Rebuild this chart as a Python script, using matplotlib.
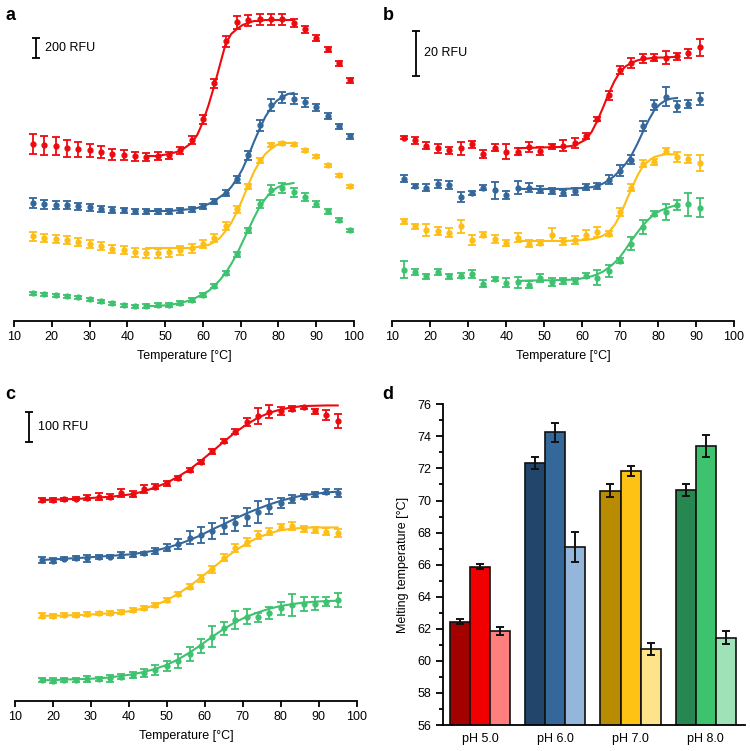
import matplotlib

matplotlib.use("Agg")

import matplotlib.pyplot as plt
import numpy as np

plt.rcParams['font.family'] = ['Liberation Sans', 'DejaVu Sans']
plt.rcParams['font.size'] = 9

# ---- panel a: 200 RFU scale ----
temps_a = [15, 18, 21, 24, 27, 30, 33, 36, 39, 42, 45, 48, 51, 54, 57, 60, 63, 66,
           69, 72, 75, 78, 81, 84, 87, 90, 93, 96, 99]
red_a = [1770, 1760, 1750, 1730, 1720, 1710, 1690, 1670, 1660, 1650, 1640, 1650, 1660, 1710,
         1810, 2020, 2380, 2800, 2990, 3010, 3020, 3020, 3020, 2980, 2920, 2830, 2720, 2580, 2410]
red_a_err = [100, 95, 90, 85, 75, 65, 60, 55, 50, 45, 40, 40, 35, 35, 40, 45, 45, 55, 65,
             55, 55, 55, 55, 40, 35, 30, 25, 25, 25]
blue_a = [1180, 1170, 1160, 1160, 1150, 1140, 1120, 1110, 1110, 1100, 1100, 1100, 1100, 1110,
          1120, 1150, 1200, 1280, 1420, 1660, 1960, 2160, 2240, 2220, 2190, 2140, 2050, 1950, 1850]
blue_a_err = [50, 45, 40, 40, 35, 35, 30, 30, 25, 25, 25, 25, 25, 25, 25, 25, 25, 30, 35,
              45, 55, 60, 55, 50, 45, 35, 30, 25, 25]
yellow_a = [850, 830, 820, 810, 790, 770, 750, 720, 710, 690, 680, 680, 690, 710, 730, 770,
            830, 950, 1120, 1350, 1610, 1760, 1780, 1770, 1710, 1650, 1560, 1460, 1350]
yellow_a_err = [45, 40, 40, 40, 40, 40, 40, 40, 40, 45, 45, 45, 45, 45, 45, 40, 40, 40, 35,
                25, 25, 20, 15, 15, 15, 15, 15, 15, 15]
green_a = [280, 270, 260, 250, 240, 220, 200, 180, 160, 150, 150, 160, 160, 180, 210, 260,
           350, 480, 670, 910, 1170, 1310, 1330, 1290, 1240, 1170, 1100, 1010, 910]
green_a_err = [15, 15, 15, 15, 15, 15, 15, 15, 15, 15, 20, 20, 20, 20, 20, 20, 20, 20, 25,
               25, 40, 50, 50, 45, 40, 30, 25, 20, 15]

fit_t_a = [45, 48, 51, 54, 57, 58.5, 60, 61.5, 63, 64.5, 66, 67.5, 69, 70.5, 72, 73.5, 75,
           76.5, 78, 79.5, 81, 82.5, 84]
red_a_fit = [1650, 1650, 1670, 1700, 1780, 1860, 1990, 2160, 2350, 2560, 2770, 2870, 2920,
             2960, 2980, 3000, 3000, 3010, 3010, 3010, 3010, 3010, 3010]
blue_a_fit = [1100, 1100, 1100, 1110, 1120, 1130, 1150, 1170, 1200, 1240, 1280, 1340, 1420,
              1520, 1650, 1790, 1920, 2040, 2130, 2200, 2240, 2270, 2280]
yellow_a_fit = [730, 730, 730, 730, 730, 740, 750, 760, 790, 830, 900, 980, 1090, 1220, 1360,
                1490, 1590, 1670, 1720, 1760, 1780, 1780, 1780]
green_a_fit = [150, 150, 160, 180, 210, 240, 270, 300, 350, 410, 480, 570, 670, 790, 910, 1030,
               1140, 1220, 1290, 1330, 1360, 1370, 1380]

# ---- panel b: 20 RFU scale ----
temps_b = [13, 16, 19, 22, 25, 28, 31, 34, 37, 40, 43, 46, 49, 52, 55, 58, 61, 64, 67, 70,
           73, 76, 79, 82, 85, 88, 91]
red_b = [82.1, 80.9, 78.5, 77.2, 76.4, 77.2, 79.0, 74.6, 77.6, 75.7, 75.7, 77.9, 76.1, 78.2,
         78.5, 79.7, 82.8, 90.6, 101.0, 112.2, 115.5, 117.5, 117.8, 117.9, 118.5, 119.7, 122.4]
red_b_err = [0.6, 1.5, 1.5, 1.9, 1.5, 3.0, 1.5, 1.8, 1.5, 3.3, 1.5, 2.2, 1.9, 1.2, 2.5, 2.2,
             1.5, 0.9, 2.1, 1.8, 2.1, 1.9, 1.5, 2.7, 1.5, 2.2, 3.7]
blue_b = [63.7, 60.3, 59.6, 61.2, 60.7, 55.5, 57.3, 59.7, 58.5, 56.3, 59.7, 59.6, 58.8, 58.2,
          57.3, 58.1, 60.0, 60.3, 63.3, 67.2, 72.2, 87.2, 96.6, 100.3, 96.1, 96.9, 99.3]
blue_b_err = [1.5, 0.9, 1.5, 1.8, 1.8, 2.2, 0.9, 1.0, 3.7, 1.9, 3.0, 2.1, 1.5, 1.5, 1.5, 1.5,
              1.2, 1.3, 2.1, 2.5, 2.1, 2.1, 2.2, 4.2, 2.5, 1.8, 2.5]
yellow_b = [44.6, 42.4, 40.6, 40.3, 39.6, 42.4, 36.4, 38.7, 36.9, 34.9, 37.3, 34.6, 35.1, 38.7,
            35.7, 36.1, 38.7, 39.8, 39.1, 48.8, 59.7, 70.4, 71.2, 76.1, 73.4, 72.7, 70.7]
yellow_b_err = [1.2, 1.2, 2.7, 1.8, 1.9, 3.0, 2.2, 1.2, 1.8, 1.5, 1.9, 1.5, 1.0, 3.0, 1.5, 1.8,
                1.8, 2.2, 1.2, 1.8, 1.5, 1.5, 1.5, 1.5, 2.2, 1.8, 3.7]
green_b = [23.0, 21.9, 20.0, 21.9, 20.0, 20.3, 20.9, 16.7, 18.8, 17.2, 17.3, 16.3, 19.3, 17.5,
           17.9, 17.9, 20.3, 19.4, 22.4, 27.0, 34.6, 42.1, 48.1, 48.8, 51.8, 52.2, 50.7]
green_b_err = [3.7, 1.2, 1.0, 1.5, 1.2, 1.2, 1.8, 1.5, 0.7, 2.2, 2.5, 1.5, 1.8, 1.8, 1.2, 1.5,
               1.2, 3.3, 2.7, 1.2, 3.0, 3.0, 1.2, 3.7, 2.2, 5.2, 4.2]

fit_t_b = [43, 46, 49, 52, 55, 58, 61, 62.5, 64, 65.5, 67, 68.5, 70, 71.5, 73, 74.5, 76, 77.5,
           79, 80.5, 82, 83.5, 85]
red_b_fit = [77.3, 77.5, 77.6, 77.8, 77.9, 78.5, 81.2, 84.6, 89.6, 95.5, 101.8, 107.3, 111.5,
             114.0, 115.5, 116.6, 117.2, 117.5, 117.8, 117.9, 117.9, 118.1, 118.1]
blue_b_fit = [59.1, 59.1, 59.1, 59.1, 59.1, 59.3, 59.6, 59.9, 60.4, 61.5, 63.0, 64.9, 67.5, 70.4,
              74.2, 79.1, 84.6, 89.8, 94.3, 97.0, 98.8, 99.5, 99.8]
yellow_b_fit = [35.8, 35.8, 35.8, 35.8, 35.8, 36.0, 36.3, 36.6, 37.2, 38.2, 39.8, 42.8, 47.3,
                53.3, 59.3, 64.8, 69.3, 71.6, 73.4, 74.1, 74.6, 74.6, 74.6]
green_b_fit = [17.9, 18.1, 18.2, 18.2, 18.4, 18.5, 19.4, 20.0, 20.9, 22.1, 23.9, 26.0, 28.7,
               32.2, 36.1, 39.5, 42.8, 45.5, 47.8, 49.3, 50.3, 51.2, 51.8]

# ---- panel c: 100 RFU scale ----
temps_c = [17, 20, 23, 26, 29, 32, 35, 38, 41, 44, 47, 50, 53, 56, 59, 62, 65, 68, 71, 74,
           77, 80, 83, 86, 89, 92, 95]
red_c = [655, 655, 658, 660, 663, 666, 666, 679, 675, 693, 699, 710, 727, 753, 780, 814, 848,
         878, 909, 930, 944, 947, 954, 958, 945, 933, 914]
red_c_err = [6.5, 6.5, 5.4, 4.3, 7.6, 10.9, 7.6, 13, 10.9, 13, 8.7, 7.6, 6.5, 6.5, 6.5, 7.6,
             7.6, 8.7, 13, 27, 22, 13, 7.6, 4.3, 8.7, 16, 22]
red_c_fit = [655, 657, 658, 659, 661, 664, 666, 670, 675, 684, 697, 712, 732, 755, 784, 814,
             846, 876, 902, 924, 940, 951, 958, 962, 963, 964, 964]
blue_c = [460, 458, 464, 468, 465, 471, 471, 476, 478, 482, 489, 500, 512, 533, 541, 554, 571,
          579, 601, 617, 634, 645, 659, 666, 674, 683, 679]
blue_c_err = [8.7, 8.7, 4.3, 6.5, 10.9, 6.5, 5.4, 8.7, 8.7, 5.4, 8.7, 10.9, 15, 22, 27, 27, 27,
              24, 30, 35, 24, 16, 13, 8.7, 8.7, 8.7, 13]
blue_c_fit = [460, 462, 464, 466, 468, 471, 473, 476, 479, 485, 491, 500, 511, 525, 541, 560,
              577, 595, 612, 627, 641, 653, 663, 671, 676, 680, 683]
yellow_c = [278, 277, 279, 280, 284, 286, 287, 290, 297, 303, 312, 329, 349, 373, 400, 430,
            467, 498, 520, 541, 552, 568, 572, 561, 558, 552, 547]
yellow_c_err = [7.6, 5.4, 6.5, 6.5, 6.5, 5.4, 5.4, 6.5, 6.5, 5.4, 6.5, 6.5, 6.5, 7.6, 10.9,
                10.9, 10.9, 13, 13, 13, 10.9, 10.9, 13, 8.7, 8.7, 10.9, 13]
yellow_c_fit = [278, 278, 279, 280, 281, 284, 286, 289, 295, 302, 313, 329, 350, 375, 403, 433,
                463, 490, 514, 533, 547, 557, 562, 565, 566, 566, 566]
green_c = [68, 66, 68, 68, 72, 72, 74, 79, 85, 90, 101, 114, 130, 153, 179, 210, 237, 264, 275,
           273, 288, 302, 313, 316, 318, 324, 329]
green_c_err = [6.5, 8.7, 6.5, 6.5, 8.7, 6.5, 10.9, 8.7, 10.9, 13, 15, 16, 22, 22, 24, 33, 22,
               30, 24, 15, 20, 22, 35, 24, 22, 15, 22]
green_c_fit = [68, 68, 70, 71, 72, 74, 77, 82, 87, 95, 105, 118, 136, 158, 183, 210, 235, 257,
               275, 289, 301, 310, 316, 321, 324, 326, 327]

# ---- panel d: melting temperatures ----
groups = ['pH 5.0', 'pH 6.0', 'pH 7.0', 'pH 8.0']
tm_dark = [62.44, 72.34, 70.62, 70.66]
tm_dark_err = [0.17, 0.37, 0.42, 0.38]
tm_mid = [65.88, 74.25, 71.84, 73.40]
tm_mid_err = [0.15, 0.58, 0.30, 0.69]
tm_light = [61.86, 67.10, 60.74, 61.45]
tm_light_err = [0.27, 0.94, 0.40, 0.39]

RED, BLUE, YELLOW, GREEN = '#EC0A0F', '#34679A', '#FDBE17', '#3EC26F'
dark_cols = ['#A30000', '#22466B', '#B98B00', '#268750']
mid_cols = ['#F00000', '#34679A', '#FEC214', '#3DC36E']
light_cols = ['#FF7F7F', '#94B6DA', '#FFE38A', '#A0E2B8']

W, H = 750, 751
fig = plt.figure(figsize=(7.5, 7.51), dpi=100)


def px_axes(x0, y0, x1, y1):
    return fig.add_axes([x0 / W, 1 - y1 / H, (x1 - x0) / W, (y1 - y0) / H])


def melt_panel(ax, temps, series, fits, fit_t, ytop, bar_x, bar_y, bar_len, bar_label, text_x):
    for (vals, errs, col), fvals in zip(series, fits):
        ax.errorbar(temps, vals, yerr=errs, fmt='o', color=col, markersize=3.5,
                    elinewidth=1.3, capsize=2.6, capthick=1.3, zorder=2)
        ax.plot(fit_t[:len(fvals)], fvals, color=col, lw=1.5, zorder=3)
    ax.errorbar([bar_x], [bar_y], yerr=[bar_len / 2], color='black', elinewidth=1.3,
                capsize=2.6, capthick=1.3)
    ax.text(text_x, bar_y, bar_label, va='center', ha='left', fontsize=9)
    ax.set_xlim(10, 100)
    ax.set_ylim(0, ytop)
    for s in ['left', 'right', 'top']:
        ax.spines[s].set_visible(False)
    ax.spines['bottom'].set_linewidth(1.3)
    ax.set_yticks([])
    ax.set_xticks(range(10, 101, 10))
    ax.tick_params(axis='x', direction='out', length=4, width=1.3, pad=3, labelsize=9)
    ax.set_xlabel('Temperature [°C]', fontsize=9, labelpad=5)


ax_a = px_axes(14, 5, 354, 321)
melt_panel(ax_a, temps_a,
           [(red_a, red_a_err, RED), (blue_a, blue_a_err, BLUE),
            (yellow_a, yellow_a_err, YELLOW), (green_a, green_a_err, GREEN)],
           [red_a_fit, blue_a_fit, yellow_a_fit, green_a_fit], fit_t_a,
           3160, 15.8, 2733, 200, '200 RFU', 18.2)

ax_b = px_axes(392.3, 5, 734, 321)
melt_panel(ax_b, temps_b,
           [(red_b, red_b_err, RED), (blue_b, blue_b_err, BLUE),
            (yellow_b, yellow_b_err, YELLOW), (green_b, green_b_err, GREEN)],
           [red_b_fit, blue_b_fit, yellow_b_fit, green_b_fit], fit_t_b,
           141.4, 16.2, 119.8, 20, '20 RFU', 18.4)

ax_c = px_axes(15, 380, 356.7, 701)
melt_panel(ax_c, temps_c,
           [(red_c, red_c_err, RED), (blue_c, blue_c_err, BLUE),
            (yellow_c, yellow_c_err, YELLOW), (green_c, green_c_err, GREEN)],
           [red_c_fit, blue_c_fit, yellow_c_fit, green_c_fit], temps_c,
           1047, 13.8, 893.5, 100, '100 RFU', 16.1)

# bar chart
ax_d = px_axes(442.7, 404.3, 745, 725)
x = np.arange(len(groups))
bw = 0.8 / 3
for offs, vals, errs, cols in [(-bw, tm_dark, tm_dark_err, dark_cols),
                               (0, tm_mid, tm_mid_err, mid_cols),
                               (bw, tm_light, tm_light_err, light_cols)]:
    ax_d.bar(x + offs, vals, width=bw, color=cols, edgecolor='#111111', linewidth=1.2, zorder=2)
    ax_d.errorbar(x + offs, vals, yerr=errs, fmt='none', ecolor='#111111', elinewidth=1.4,
                  capsize=3, capthick=1.4, zorder=3)
ax_d.set_xlim(-0.495, 3.52)
ax_d.set_ylim(56, 76)
ax_d.set_yticks(range(56, 77, 2))
ax_d.set_yticks(range(57, 76, 2), minor=True)
ax_d.set_xticks(x)
ax_d.set_xticklabels(groups)
for s in ['right', 'top']:
    ax_d.spines[s].set_visible(False)
ax_d.spines['left'].set_linewidth(1.3)
ax_d.spines['bottom'].set_linewidth(1.3)
ax_d.tick_params(axis='y', which='major', direction='out', length=5, width=1.3, labelsize=9, pad=3)
ax_d.tick_params(axis='y', which='minor', direction='out', length=3, width=1.3)
ax_d.tick_params(axis='x', length=0, labelsize=9, pad=6)
ax_d.set_ylabel('Melting temperature [°C]', fontsize=9, labelpad=6)

# panel letters
for lx, ly, lab in [(5, 20, 'a'), (383, 20, 'b'), (5, 399, 'c'), (382, 399, 'd')]:
    fig.text(lx / W, 1 - ly / H, lab, fontsize=13, fontweight='bold', va='baseline', ha='left')

fig.savefig('out.png', dpi=100)
